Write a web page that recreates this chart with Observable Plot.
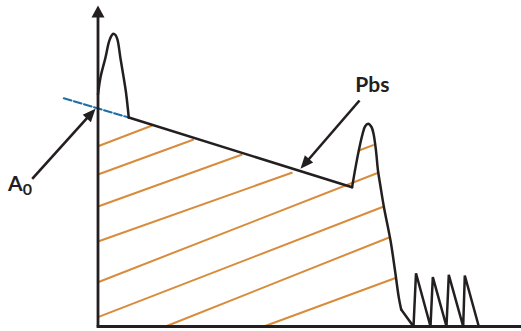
<!DOCTYPE html>
<html>
<head>
<meta charset="utf-8">
<script src="https://cdn.jsdelivr.net/npm/d3@7"></script>
<script src="https://cdn.jsdelivr.net/npm/@observablehq/plot@0.6"></script>
<style>
  html, body { margin: 0; padding: 0; background: #fff; }
  #chart svg { display: block; overflow: visible; }
</style>
</head>
<body>
<div id="chart"></div>
<script>
// ---- data (schematic units: x 0..100, y 0..100) ----
// first peak (smooth)
const peak1X = [0, 0.59, 1.77, 2.55, 3.07, 3.59, 4.13, 4.60, 5.31, 6.02, 6.61, 7.27];
const peak1Y = [72.3, 77.6, 83.8, 88.5, 90.3, 91.2, 90.8, 89.4, 83.5, 77.9, 72.9, 65.1];
// straight decay line (Pbs)
const slopeX = [7.27, 60.0];
const slopeY = [65.1, 43.4];
// second peak (smooth)
const peak2X = [60.0, 60.80, 61.58, 62.38, 63.05, 63.80, 64.58, 65.05, 65.64, 66.11, 66.71, 67.53, 69.07, 70.13, 71.03, 71.59];
const peak2Y = [43.4, 49.5, 54.8, 59.5, 62.3, 63.15, 62.15, 60.1, 54.8, 48.6, 43.6, 37.1, 26.8, 17.45, 9.0, 5.3];
// tail and sawtooth echoes
const teethX = [71.59, 74.50, 75.09, 78.51, 79.06, 82.29, 82.83, 86.23, 86.61, 89.92];
const teethY = [5.3, 0, 16.6, 0, 15.4, 0, 16.1, 0, 15.9, 0];
// dashed extrapolation to the axis (A0)
const dashX = [-8.08, 7.27];
const dashY = [71.1, 65.1];
// hatch lines
const hatchX1 = [0, 0, 0, 0, 0, 0, 15.94, 39.15, 61.63];
const hatchY1 = [56.17, 47.35, 37.38, 26.48, 13.80, 2.90, 0, 0, 54.83];
const hatchX2 = [12.80, 22.62, 34.05, 45.93, 66.30, 67.49, 68.90, 70.25, 65.12];
const hatchY2 = [62.62, 58.26, 53.58, 47.98, 47.98, 37.38, 27.82, 15.11, 56.60];
// annotation arrows [tailX, tailY, tipX, tipY]
const arrowTailX = [-15.54, 61.75];
const arrowTailY = [46.01, 70.40];
const arrowTipX = [-0.59, 47.82];
const arrowTipY = [67.82, 49.13];
// labels
const labelText = ["Pbs", "A"];
const labelX = [64.8, -19.5];
const labelY = [73.2, 42.2];
const subText = ["0"];
const subX = [-16.7];
const subY = [41.0];

// ---- layout ----
const W = 521, H = 331;
const mL = 97.5, mR = 0, mT = 5, mB = 5;
const xs = d3.scaleLinear().domain([0, 100]).range([mL, W - mR]);
const ys = d3.scaleLinear().domain([0, 100]).range([H - mB, mT]);

const INK = "#231f20", ORANGE = "#d98b3c", BLUE = "#1f6ea6";

// arrowhead symbol: tip at origin pointing up
function headSymbol(len, wid) {
  return {draw(ctx) { ctx.moveTo(0, 0); ctx.lineTo(-wid / 2, len); ctx.lineTo(wid / 2, len); ctx.closePath(); }};
}
const head = headSymbol(13, 11);
const axisHead = headSymbol(12, 13);

const pts = (X, Y) => X.map((x, i) => ({x, y: Y[i]}));
const hatch = hatchX1.map((x1, i) => ({x1, y1: hatchY1[i], x2: hatchX2[i], y2: hatchY2[i]}));

const arrows = arrowTailX.map((tx, i) => {
  const px0 = xs(tx), py0 = ys(arrowTailY[i]);
  const px1 = xs(arrowTipX[i]), py1 = ys(arrowTipY[i]);
  const dx = px1 - px0, dy = py1 - py0, L = Math.hypot(dx, dy);
  const back = 9; // end shaft inside the head
  return {
    x1: tx, y1: arrowTailY[i],
    x2: xs.invert(px1 - dx / L * back), y2: ys.invert(py1 - dy / L * back),
    tx: arrowTipX[i], ty: arrowTipY[i],
    rot: Math.atan2(dx, -dy) * 180 / Math.PI
  };
});

const labels = labelText.map((t, i) => ({t, x: labelX[i], y: labelY[i]}));
const subs = subText.map((t, i) => ({t, x: subX[i], y: subY[i]}));

const chart = Plot.plot({
  width: W, height: H,
  marginLeft: mL, marginRight: mR, marginTop: mT, marginBottom: mB,
  x: {domain: [0, 100], axis: null},
  y: {domain: [0, 100], axis: null},
  style: {background: "#fff", overflow: "visible"},
  marks: [
    Plot.link(hatch, {x1: "x1", y1: "y1", x2: "x2", y2: "y2", stroke: ORANGE, strokeWidth: 2}),
    Plot.line(pts(dashX, dashY), {x: "x", y: "y", stroke: BLUE, strokeWidth: 2, strokeDasharray: "8,2.5"}),
    // axes
    Plot.link([{x1: 0, y1: 0, x2: 0, y2: 97}], {x1: "x1", y1: "y1", x2: "x2", y2: "y2", stroke: INK, strokeWidth: 2.8}),
    Plot.link([{x1: 0, y1: 0, x2: 100, y2: 0}], {x1: "x1", y1: "y1", x2: "x2", y2: "y2", stroke: INK, strokeWidth: 2.8, strokeLinecap: "square"}),
    Plot.dot([{x: 0, y: 100}], {x: "x", y: "y", symbol: axisHead, r: 5, fill: INK, stroke: "none"}),
    // signal
    Plot.line(pts(peak1X, peak1Y), {x: "x", y: "y", curve: "catmull-rom", stroke: INK, strokeWidth: 2.5}),
    Plot.line(pts(slopeX, slopeY), {x: "x", y: "y", stroke: INK, strokeWidth: 2.5}),
    Plot.line(pts(peak2X, peak2Y), {x: "x", y: "y", curve: "catmull-rom", stroke: INK, strokeWidth: 2.5}),
    Plot.line(pts(teethX, teethY), {x: "x", y: "y", stroke: INK, strokeWidth: 2.5, strokeLinejoin: "miter"}),
    // annotation arrows
    Plot.link(arrows, {x1: "x1", y1: "y1", x2: "x2", y2: "y2", stroke: INK, strokeWidth: 2.6}),
    Plot.dot(arrows, {x: "tx", y: "ty", rotate: "rot", symbol: head, r: 5, fill: INK, stroke: "none"}),
    // labels
    Plot.text(labels, {x: "x", y: "y", text: "t", fill: INK, fontSize: 21, fontWeight: "bold", fontFamily: "Lato", textAnchor: "middle", lineAnchor: "bottom"}),
    Plot.text(subs, {x: "x", y: "y", text: "t", fill: INK, fontSize: 16, fontWeight: "bold", fontFamily: "Lato", textAnchor: "middle", lineAnchor: "bottom"})
  ]
});
document.getElementById("chart").appendChild(chart);
</script>
</body>
</html>
